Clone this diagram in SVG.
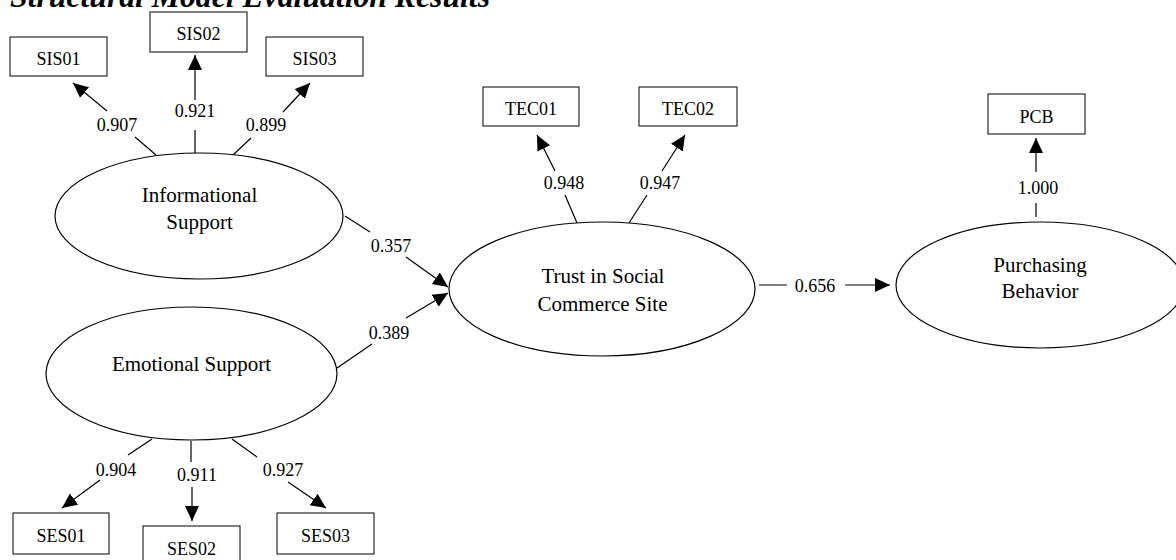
<svg xmlns="http://www.w3.org/2000/svg" width="1176" height="560" viewBox="0 0 1176 560">
<style>
.box{fill:#fff;stroke:#000;stroke-width:1}
.ell{fill:#fff;stroke:#000;stroke-width:1.2}
.t{font-family:"Liberation Serif","Times New Roman",serif;fill:#000;text-anchor:middle}
.ind{font-size:18px}
.lat{font-size:21px}
.w{font-size:18px}
.c{fill:none;stroke:#000;stroke-width:1.2}
</style>
<defs>
<marker id="ah" markerUnits="userSpaceOnUse" markerWidth="16" markerHeight="16" viewBox="0 0 16 16" refX="15" refY="7.5" orient="auto">
<path d="M0,0.5 L15,7.5 L0,14.5 z" fill="#000"/>
</marker>
</defs>
<rect width="1176" height="560" fill="#fff"/>
<text x="10" y="7" font-family="Liberation Serif, Times New Roman, serif" font-size="32" font-weight="bold" font-style="italic" textLength="480" lengthAdjust="spacingAndGlyphs">Structural Model Evaluation Results</text>

<g id="connectors">
<path class="c" d="M156,155 L135,137 M107,111 L73,83" marker-end="url(#ah)"/>
<path class="c" d="M195,155 L195,130 M195,100 L195,55" marker-end="url(#ah)"/>
<path class="c" d="M233,155 L251,138 M283,112 L310,83" marker-end="url(#ah)"/>
<path class="c" d="M577,223 L565,195 M555,171 L537,135" marker-end="url(#ah)"/>
<path class="c" d="M629,223 L647,195 M662,171 L685,135" marker-end="url(#ah)"/>
<path class="c" d="M1036,217 L1036,203 M1036,172 L1036,138" marker-end="url(#ah)"/>
<path class="c" d="M759,285 L787,285 M845,285 L890,285" marker-end="url(#ah)"/>
<path class="c" d="M345,216 L370,232 M406,257 L448,287" marker-end="url(#ah)"/>
<path class="c" d="M337,368 L372,344 M406,318 L448,293" marker-end="url(#ah)"/>
<path class="c" d="M152,439 L128,455 M100,480 L62,508" marker-end="url(#ah)"/>
<path class="c" d="M191,441 L191,462 M192,487 L192,521" marker-end="url(#ah)"/>
<path class="c" d="M232,439 L257,457 M288,482 L326,508" marker-end="url(#ah)"/>
<text class="t w" x="117" y="131">0.907</text>
<text class="t w" x="195" y="117">0.921</text>
<text class="t w" x="266" y="131">0.899</text>
<text class="t w" x="564" y="189">0.948</text>
<text class="t w" x="660" y="189">0.947</text>
<text class="t w" x="1038" y="194">1.000</text>
<text class="t w" x="815" y="292">0.656</text>
<text class="t w" x="391" y="252">0.357</text>
<text class="t w" x="389" y="339">0.389</text>
<text class="t w" x="116" y="476">0.904</text>
<text class="t w" x="197" y="481">0.911</text>
<text class="t w" x="283" y="476">0.927</text>
</g>

<g id="SIS01"><rect class="box" x="10" y="37" width="97" height="39"/><text class="t ind" x="58.5" y="65">SIS01</text></g>
<g id="SIS02"><rect class="box" x="150" y="12" width="97" height="40"/><text class="t ind" x="198.5" y="40">SIS02</text></g>
<g id="SIS03"><rect class="box" x="266" y="37" width="97" height="39"/><text class="t ind" x="314.5" y="65">SIS03</text></g>
<g id="TEC01"><rect class="box" x="483" y="87" width="96" height="39"/><text class="t ind" x="531" y="115">TEC01</text></g>
<g id="TEC02"><rect class="box" x="639" y="87" width="98" height="39"/><text class="t ind" x="688" y="115">TEC02</text></g>
<g id="PCB"><rect class="box" x="988" y="94" width="97" height="40"/><text class="t ind" x="1036.5" y="123">PCB</text></g>
<g id="SES01"><rect class="box" x="13" y="513" width="96" height="41"/><text class="t ind" x="61" y="542">SES01</text></g>
<g id="SES02"><rect class="box" x="143" y="526" width="97" height="40"/><text class="t ind" x="191.5" y="555">SES02</text></g>
<g id="SES03"><rect class="box" x="277" y="513" width="97" height="41"/><text class="t ind" x="325.5" y="542">SES03</text></g>

<g id="InformationalSupport"><ellipse class="ell" cx="199" cy="216" rx="144" ry="63"/><text class="t lat" x="199.5" y="202">Informational</text><text class="t lat" x="199.5" y="229">Support</text></g>
<g id="EmotionalSupport"><ellipse class="ell" cx="191.5" cy="373.5" rx="145.5" ry="66.5"/><text class="t lat" x="191.5" y="371">Emotional Support</text></g>
<g id="Trust"><ellipse class="ell" cx="602" cy="289" rx="153" ry="67"/><text class="t lat" x="603" y="283">Trust in Social</text><text class="t lat" x="602.5" y="311">Commerce Site</text></g>
<g id="PurchasingBehavior"><ellipse class="ell" cx="1040" cy="285" rx="144" ry="63"/><text class="t lat" x="1040" y="272">Purchasing</text><text class="t lat" x="1040" y="298">Behavior</text></g>
</svg>
